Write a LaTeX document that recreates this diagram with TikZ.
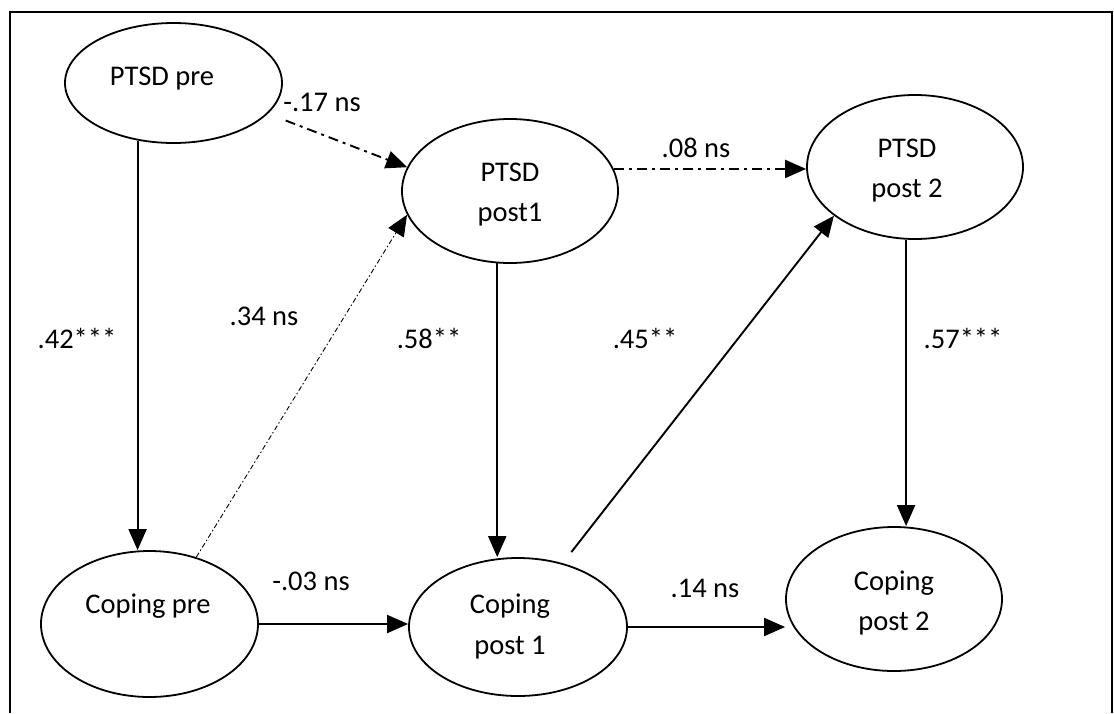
\documentclass[tikz,border=0pt]{standalone}
\usepackage{fontspec}
\setmainfont{Carlito}
\usetikzlibrary{arrows.meta,shapes.geometric}
\begin{document}
\begin{tikzpicture}[x=1pt,y=-1pt,
  latent/.style={ellipse,draw,line width=1.8pt,inner sep=0pt},
  txt/.style={font=\fontsize{28.5}{40}\selectfont,anchor=base,inner sep=0pt},
  arr/.style={line width=1.9pt,-{Triangle[length=21pt,width=18pt]}},
  dashdot/.style={dash pattern=on 10pt off 5pt on 3pt off 5pt},
  thindot/.style={line width=0.9pt,dash pattern=on 5pt off 2.5pt on 1.5pt off 2.5pt}]
\useasboundingbox (0,0) rectangle (1114,713);
\draw[line width=1.5pt] (10,713) -- (10,12) -- (1112,12) -- (1112,713);

% latent variables
\node[latent,minimum width=217pt,minimum height=120pt] (ptsdpre) at (173.5,83) {};
\node[latent,minimum width=216pt,minimum height=144pt] (ptsdp1) at (510,191) {};
\node[latent,minimum width=216pt,minimum height=144pt] (ptsdp2) at (915,167) {};
\node[latent,minimum width=217pt,minimum height=146pt] (copingpre) at (149.5,624) {};
\node[latent,minimum width=218pt,minimum height=138pt] (copingp1) at (518,627) {};
\node[latent,minimum width=216pt,minimum height=144pt] (copingp2) at (894,599) {};

% node texts
\node[txt] (tptsdpre) at (162,85) {PTSD pre};
\node[txt] (tptsdp1a) at (510,181) {PTSD};
\node[txt] (tptsdp1b) at (510,221) {post1};
\node[txt] (tptsdp2a) at (907,157) {PTSD};
\node[txt] (tptsdp2b) at (907,197) {post 2};
\node[txt] (tcopingpre) at (148,613) {Coping pre};
\node[txt] (tcopingp1a) at (510,613) {Coping};
\node[txt] (tcopingp1b) at (510,654) {post 1};
\node[txt] (tcopingp2a) at (894,590) {Coping};
\node[txt] (tcopingp2b) at (894,630) {post 2};

% connectors
\draw[arr,dashdot,shorten <=19pt] (ptsdpre.-18.5) -- (ptsdp1.167);
\draw[arr,thindot] (copingpre.55) -- (ptsdp1.193.5);
\draw[arr,dashdot] (ptsdp1.12.7) -- (ptsdp1.12.7 -| ptsdp2.west);
\draw[arr] (ptsdpre.238.4) -- (ptsdpre.238.4 |- copingpre.north);
\draw[arr] (ptsdp1.260.4) -- (ptsdp1.260.4 |- copingp1.north);
\draw[arr] (ptsdp2.263) -- (ptsdp2.263 |- copingp2.north);
\draw[arr,shorten <=14pt] (copingp1.55.3) -- (ptsdp2.211.4);
\draw[arr] (copingpre.east) -- (copingpre.east -| copingp1.west);
\draw[arr] (copingp1.east) -- (copingp1.east -| copingp2.west);

% path labels
\node[txt] (l17) at (322,111) {-.17 ns};
\node[txt] (l08) at (696,157) {.08 ns};
\node[txt] (l42) at (77,348) {.42***};
\node[txt] (l34) at (264,325) {.34 ns};
\node[txt] (l58) at (429,348) {.58**};
\node[txt] (l45) at (645,348) {.45**};
\node[txt] (l57) at (963,348) {.57***};
\node[txt] (l03) at (311,590) {-.03 ns};
\node[txt] (l14) at (705,597) {.14 ns};
\end{tikzpicture}
\end{document}
